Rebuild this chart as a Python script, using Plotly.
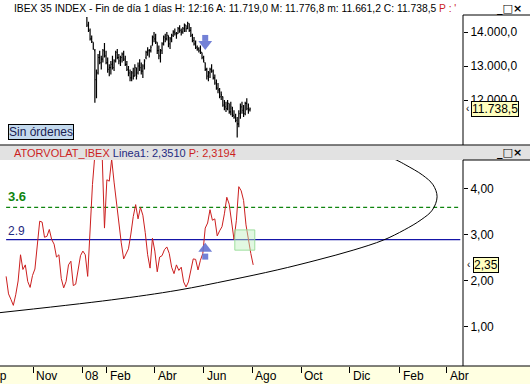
import pandas as pd
import plotly.graph_objects as go

# ---------------- data ----------------
# Top panel: IBEX 35 bars (sampled every 2nd calendar day from the picture)
price_start = "2008-01-07"
price_open = [
    14450, 14200, 14050, 13800, 13700, 13450, 12600, 12800, 13250, 13100,
    13200, 13450, 13300, 13100, 12900, 12950, 13050, 12950, 13150, 13400,
    13250, 13150, 13250, 13350, 13200, 13050, 12900, 12800, 12650, 12800,
    12700, 12950, 12800, 13000, 12950, 12850, 13000, 13250, 13400, 13450,
    13450, 13600, 13850, 13800, 13700, 13450, 13300, 13450, 13650, 13850,
    13800, 13900, 13650, 13800, 13900, 14000, 13950, 13950, 14100, 14050,
    14000, 14100, 14200, 14100, 14250, 14050, 13900, 13750, 13650, 13550,
    13500, 13450, 13400, 13250, 13100, 12900, 12700, 12800, 12900, 12850,
    12650, 12500, 12350, 12300, 12100, 12100, 11850, 11800, 11750, 11900,
    11650, 11750, 11550, 11500, 11400, 11300, 11600, 11800, 11700, 11600,
    11900, 11750, 11719.0]
price_high = [
    14600, 14300, 14100, 13900, 13700, 13500, 12900, 13350, 13450, 13300,
    13500, 13680, 13450, 13250, 13050, 13150, 13300, 13200, 13450, 13500,
    13350, 13300, 13400, 13450, 13300, 13150, 13000, 12900, 12850, 12950,
    13050, 12950, 13100, 13200, 13100, 13050, 13200, 13450, 13550, 13500,
    13600, 13900, 14000, 13950, 13700, 13600, 13500, 13700, 13900, 13950,
    14000, 13900, 13850, 13950, 14050, 14100, 14000, 14150, 14200, 14100,
    14150, 14250, 14200, 14300, 14250, 14150, 13950, 13850, 13750, 13600,
    13550, 13600, 13400, 13300, 13100, 12950, 12850, 12950, 13050, 12900,
    12750, 12600, 12500, 12350, 12250, 12100, 12000, 11950, 12000, 11900,
    11950, 11800, 11700, 11600, 11500, 11700, 11900, 11950, 11850, 11950,
    12050, 11900, 11776.8]
price_low = [
    14150, 14000, 13750, 13680, 13480, 11920, 12050, 12750, 13050, 12900,
    13100, 13250, 13050, 12800, 12700, 12750, 12900, 12850, 13100, 13200,
    13050, 13000, 13100, 13150, 13000, 12850, 12700, 12550, 12550, 12600,
    12700, 12600, 12750, 12850, 12750, 12650, 12900, 13200, 13300, 13250,
    13400, 13600, 13700, 13650, 13350, 13200, 13100, 13350, 13600, 13700,
    13750, 13550, 13500, 13700, 13850, 13900, 13800, 13950, 13980, 13900,
    13950, 14000, 14000, 14080, 14000, 13850, 13700, 13600, 13500, 13450,
    13400, 13350, 13200, 13100, 12850, 12600, 12550, 12650, 12800, 12600,
    12450, 12300, 12200, 12050, 12000, 11800, 11700, 11650, 11700, 11600,
    11550, 11500, 11450, 11350, 10900, 11200, 11450, 11600, 11500, 11550,
    11700, 11600, 11661.2]
price_close = [
    14200, 14050, 13800, 13720, 13500, 12600, 12800, 13250, 13100, 13200,
    13450, 13300, 13100, 12900, 12950, 13050, 12950, 13150, 13400, 13250,
    13150, 13250, 13350, 13200, 13050, 12900, 12800, 12650, 12800, 12700,
    12950, 12700, 13000, 12950, 12850, 13000, 13150, 13400, 13450, 13450,
    13550, 13850, 13800, 13700, 13450, 13300, 13450, 13650, 13850, 13800,
    13900, 13650, 13800, 13900, 14000, 13950, 13950, 14100, 14050, 14000,
    14100, 14200, 14100, 14250, 14050, 13900, 13750, 13650, 13550, 13500,
    13450, 13400, 13250, 13150, 12900, 12700, 12800, 12900, 12850, 12650,
    12500, 12350, 12300, 12100, 12150, 11850, 11800, 11750, 11900, 11650,
    11800, 11550, 11500, 11400, 11300, 11600, 11800, 11700, 11600, 11900,
    11750, 11700, 11738.5]

# Bottom panel: ATORVOLAT_IBEX indicator (sampled every 3rd calendar day)
ind_start = "2007-09-28"
ind_values = [
    2.10, 1.72, 1.60, 1.47, 1.70, 2.00, 2.57, 2.25, 2.35, 1.99,
    1.86, 2.12, 2.26, 2.75, 3.30, 3.28, 2.95, 2.97, 3.12, 2.90,
    2.80, 2.52, 2.57, 2.05, 1.85, 1.99, 2.35, 2.43, 1.90, 1.93,
    2.25, 2.55, 2.65, 2.57, 2.10, 3.20, 4.10, 4.75, 5.10, 5.10,
    4.80, 3.15, 4.20, 4.17, 4.65, 4.15, 3.68, 3.30, 2.83, 2.48,
    2.61, 2.70, 3.02, 3.40, 3.66, 3.35, 3.60, 3.43, 3.05, 2.57,
    2.28, 2.93, 2.65, 2.20, 2.52, 2.55, 2.68, 2.74, 2.60, 2.30,
    2.16, 2.35, 2.23, 2.30, 1.98, 1.87, 1.98, 2.26, 2.48, 2.47,
    2.24, 2.45, 2.60, 3.15, 3.26, 3.55, 3.32, 3.35, 2.98, 3.09,
    3.18, 3.46, 3.82, 3.67, 3.33, 2.90, 3.32, 4.05, 3.96, 3.75,
    3.22, 2.89, 2.60, 2.35]
ind_linea1 = 2.3510
ind_p = 2.3194

# Horizontal reference levels
level_values = [3.6, 2.9]
level_labels = ["3.6", "2.9"]
level_span = ["2007-09-28", "2009-04-18"]

# Hand-drawn curve
curve_dates = ["2007-09-14", "2008-02-07", "2008-04-30", "2008-07-04", "2008-09-01",
               "2008-10-22", "2008-12-05", "2009-01-12", "2009-02-07", "2009-02-28",
               "2009-03-14", "2009-03-20", "2009-03-15", "2009-03-02", "2009-02-09",
               "2009-01-28", "2008-12-27"]
curve_values = [1.30, 1.59, 1.80, 2.02, 2.24, 2.46, 2.67, 2.89, 3.11, 3.33,
                3.54, 3.83, 4.09, 4.30, 4.52, 4.63, 4.85]

# Signal arrows
sell_date = "2008-06-03"
sell_head, sell_shaft = 13650, 13825
buy_date = "2008-06-03"
buy_head, buy_shaft = 2.70, 2.53

# Highlight box
box_dates = ["2008-07-10", "2008-08-04"]
box_values = [2.67, 3.11]

# Axes
x_range = ["2007-09-20 08:00", "2009-04-21 10:00"]
tick_dates = ["2007-09-01", "2007-11-01", "2008-01-01", "2008-02-01", "2008-04-01",
              "2008-06-01", "2008-08-01", "2008-10-01", "2008-12-01", "2009-02-01",
              "2009-04-01"]
tick_labels = ["Sep", "Nov", "08", "Feb", "Abr", "Jun", "Ago", "Oct", "Dic", "Feb", "Abr"]
price_ticks = [12000, 13000, 14000]
price_range = [10707, 14441]
ind_ticks = [1, 2, 3, 4]
ind_range = [0.152, 4.63]

# ---------------- layout helpers ----------------
W, H = 530, 384
ML, MR, MT, MB = 0, 67, 17, 18
PW, PH = W - ML - MR, H - MT - MB


def py(y):
    return (H - MB - y) / PH


def pxx(x):
    return (x - ML) / PW


FONT = "Liberation Sans, Arial, sans-serif"
RED = "#CC1F1F"
NAVY = "#1F2A80"
GREEN = "#0F850F"
ARROW = "rgba(100,115,210,0.9)"


def es(v, d):
    s = f"{v:,.{d}f}"
    return s.replace(",", "X").replace(".", ",").replace("X", ".")


price_dates = pd.date_range(price_start, periods=len(price_close), freq="2D")
ind_dates = pd.date_range(ind_start, periods=len(ind_values), freq="3D")

fig = go.Figure()

fig.add_trace(go.Ohlc(
    x=price_dates, open=price_open, high=price_high, low=price_low, close=price_close,
    increasing_line_color="black", decreasing_line_color="black",
    line_width=1.2, tickwidth=0.5, xaxis="x", yaxis="y",
    showlegend=False, hoverinfo="skip"))

# sell arrow (top)
fig.add_trace(go.Scatter(x=[sell_date], y=[sell_shaft], mode="markers",
                         marker=dict(symbol="square", size=6, color=ARROW),
                         xaxis="x", yaxis="y", showlegend=False, hoverinfo="skip"))
fig.add_trace(go.Scatter(x=[sell_date], y=[sell_head], mode="markers",
                         marker=dict(symbol="triangle-down", size=12, color=ARROW),
                         xaxis="x", yaxis="y", showlegend=False, hoverinfo="skip"))

# level lines
fig.add_trace(go.Scatter(x=level_span, y=[level_values[0]] * 2, mode="lines",
                         line=dict(color=GREEN, width=1.2, dash="4px,3px"),
                         xaxis="x", yaxis="y2", showlegend=False, hoverinfo="skip"))
fig.add_trace(go.Scatter(x=level_span, y=[level_values[1]] * 2, mode="lines",
                         line=dict(color="#1515A8", width=1.2),
                         xaxis="x", yaxis="y2", showlegend=False, hoverinfo="skip"))

# curve
fig.add_trace(go.Scatter(x=curve_dates, y=curve_values, mode="lines",
                         line=dict(color="black", width=1, shape="spline", smoothing=1.0),
                         xaxis="x", yaxis="y2", showlegend=False, hoverinfo="skip"))

# indicator
fig.add_trace(go.Scatter(x=ind_dates, y=ind_values, mode="lines",
                         line=dict(color=RED, width=1),
                         xaxis="x", yaxis="y2", showlegend=False, hoverinfo="skip"))

# buy arrow (bottom)
fig.add_trace(go.Scatter(x=[buy_date], y=[buy_shaft], mode="markers",
                         marker=dict(symbol="square", size=6, color=ARROW),
                         xaxis="x", yaxis="y2", showlegend=False, hoverinfo="skip"))
fig.add_trace(go.Scatter(x=[buy_date], y=[buy_head], mode="markers",
                         marker=dict(symbol="triangle-up", size=12, color=ARROW),
                         xaxis="x", yaxis="y2", showlegend=False, hoverinfo="skip"))

shapes = [
    # x-axis bar
    dict(type="rect", xref="paper", yref="paper", x0=0, x1=pxx(W), y0=py(H), y1=py(366),
         fillcolor="#FFFFE1", line_width=0, layer="below"),
    dict(type="line", xref="paper", yref="paper", x0=0, x1=pxx(W), y0=py(366), y1=py(366),
         line=dict(color="black", width=1)),
    # right axis lines
    dict(type="line", xref="paper", yref="paper", x0=1, x1=1, y0=py(145), y1=py(15),
         line=dict(color="black", width=1)),
    dict(type="line", xref="paper", yref="paper", x0=1, x1=1, y0=py(366), y1=py(160),
         line=dict(color="black", width=1)),
    dict(type="line", xref="paper", yref="paper", x0=1, x1=pxx(W), y0=py(15), y1=py(15),
         line=dict(color="black", width=1)),
    # bottom panel header bar
    dict(type="rect", xref="paper", yref="paper", x0=0, x1=pxx(W), y0=py(160), y1=py(145.5),
         fillcolor="#E2E2E2", line_width=0),
    dict(type="line", xref="paper", yref="paper", x0=0, x1=pxx(W), y0=py(145), y1=py(145),
         line=dict(color="black", width=1)),
    dict(type="line", xref="paper", yref="paper", x0=1, x1=pxx(W), y0=py(160), y1=py(160),
         line=dict(color="black", width=1)),
    # highlight box
    dict(type="rect", xref="x", yref="y2", x0=box_dates[0], x1=box_dates[1],
         y0=box_values[0], y1=box_values[1],
         fillcolor="rgba(190,240,190,0.45)", line=dict(color="rgba(150,220,150,0.9)", width=1)),
]

ann = []
# header text (top)
hdr = (f"IBEX 35 INDEX - Fin de día 1 días H: 12:16 A: {es(price_open[-1], 1)} "
       f"M: {es(price_high[-1], 1)} m: {es(price_low[-1], 1)} C: {es(price_close[-1], 1)} "
       f"<span style='color:{RED}'>P : '</span>")
ann.append(dict(xref="paper", yref="paper", x=pxx(12), y=py(8), xanchor="left", yanchor="middle",
                text=hdr, showarrow=False, font=dict(family=FONT, size=10.3, color="black")))
for yb in (8, 152):
    ann.append(dict(xref="paper", yref="paper", x=pxx(524), y=py(yb), xanchor="right",
                    yanchor="middle", text="<b>_□×</b>", showarrow=False,
                    font=dict(family="DejaVu Sans", size=11, color="black")))
# bottom header
hdr2 = (f"<span style='color:{RED}'>ATORVOLAT_IBEX</span> "
        f"<span style='color:{NAVY}'>Linea1: {es(ind_linea1, 4)}</span> "
        f"<span style='color:{RED}'>P: {es(ind_p, 4)}</span>")
ann.append(dict(xref="paper", yref="paper", x=pxx(12), y=py(152.5), xanchor="left",
                yanchor="middle", text=hdr2, showarrow=False,
                font=dict(family=FONT, size=11)))
# Sin órdenes
ann.append(dict(xref="paper", yref="paper", x=pxx(8), y=py(131.5), xanchor="left",
                yanchor="middle", text="Sin órdenes", showarrow=False,
                bgcolor="#C4DAEE", bordercolor="black", borderwidth=1, borderpad=0,
                font=dict(family=FONT, size=12, color="#1A2050")))
# current value labels
ann.append(dict(xref="paper", yref="y", x=pxx(471), y=price_close[-1], xanchor="left",
                yanchor="middle", text=es(price_close[-1], 1), showarrow=False,
                bgcolor="#FFFFC0", bordercolor="black", borderwidth=1, borderpad=0,
                font=dict(family=FONT, size=12, color="black")))
ann.append(dict(xref="paper", yref="y", x=pxx(467), y=price_close[-1], xanchor="center",
                yanchor="middle", text="‹", showarrow=False,
                font=dict(family=FONT, size=10, color="black")))
ann.append(dict(xref="paper", yref="y2", x=pxx(473), y=ind_values[-1], xanchor="left",
                yanchor="middle", text=es(ind_values[-1], 2), showarrow=False,
                bgcolor="#FFFFC0", bordercolor="black", borderwidth=1, borderpad=0,
                font=dict(family=FONT, size=12, color="black")))
ann.append(dict(xref="paper", yref="y2", x=pxx(468), y=ind_values[-1], xanchor="center",
                yanchor="middle", text="‹", showarrow=False,
                font=dict(family=FONT, size=10, color="black")))
# level labels
ann.append(dict(xref="x", yref="y2", x=level_span[0], y=level_values[0], xanchor="left",
                yanchor="bottom", yshift=1, text=f"<b>{level_labels[0]}</b>", showarrow=False,
                font=dict(family=FONT, size=13, color=GREEN)))
ann.append(dict(xref="x", yref="y2", x=level_span[0], y=level_values[1], xanchor="left",
                yanchor="bottom", yshift=0, text=level_labels[1], showarrow=False,
                font=dict(family=FONT, size=12, color=NAVY)))
# x tick labels (left-aligned after the tick)
for d, lab in zip(tick_dates, tick_labels):
    if pd.Timestamp(d) < pd.Timestamp(x_range[0]):
        ann.append(dict(xref="paper", yref="paper", x=0, xshift=8, y=py(376),
                        xanchor="right", yanchor="middle", text=lab, showarrow=False,
                        borderpad=0, font=dict(family=FONT, size=12, color="black")))
    else:
        ann.append(dict(xref="x", yref="paper", x=d, xshift=2, y=py(376),
                        xanchor="left", yanchor="middle", text=lab, showarrow=False,
                        borderpad=0, font=dict(family=FONT, size=12, color="black")))

fig.update_layout(
    width=W, height=H, margin=dict(l=ML, r=MR, t=MT, b=MB, pad=0),
    paper_bgcolor="white", plot_bgcolor="white", separators=",.",
    showlegend=False, hovermode=False,
    shapes=shapes, annotations=ann,
    xaxis=dict(type="date", range=x_range, domain=[0, 1], anchor="y2",
               tickvals=tick_dates, showticklabels=False, ticks="outside", ticklen=6,
               tickcolor="black", tickwidth=1, showgrid=False, zeroline=False,
               showline=False, rangeslider=dict(visible=False)),
    yaxis=dict(domain=[py(144), 1], range=price_range, side="right", anchor="x",
               tickvals=price_ticks, tickformat=",.1f", ticks="outside", ticklen=4,
               tickcolor="black", showgrid=False, zeroline=False, showline=False,
               tickfont=dict(family=FONT, size=12, color="black")),
    yaxis2=dict(domain=[0, py(160)], range=ind_range, side="right", anchor="x",
                tickvals=ind_ticks, tickformat=".2f", ticks="outside", ticklen=4,
                tickcolor="black", showgrid=False, zeroline=False, showline=False,
                tickfont=dict(family=FONT, size=12, color="black")),
)

fig.write_html("out.html")
